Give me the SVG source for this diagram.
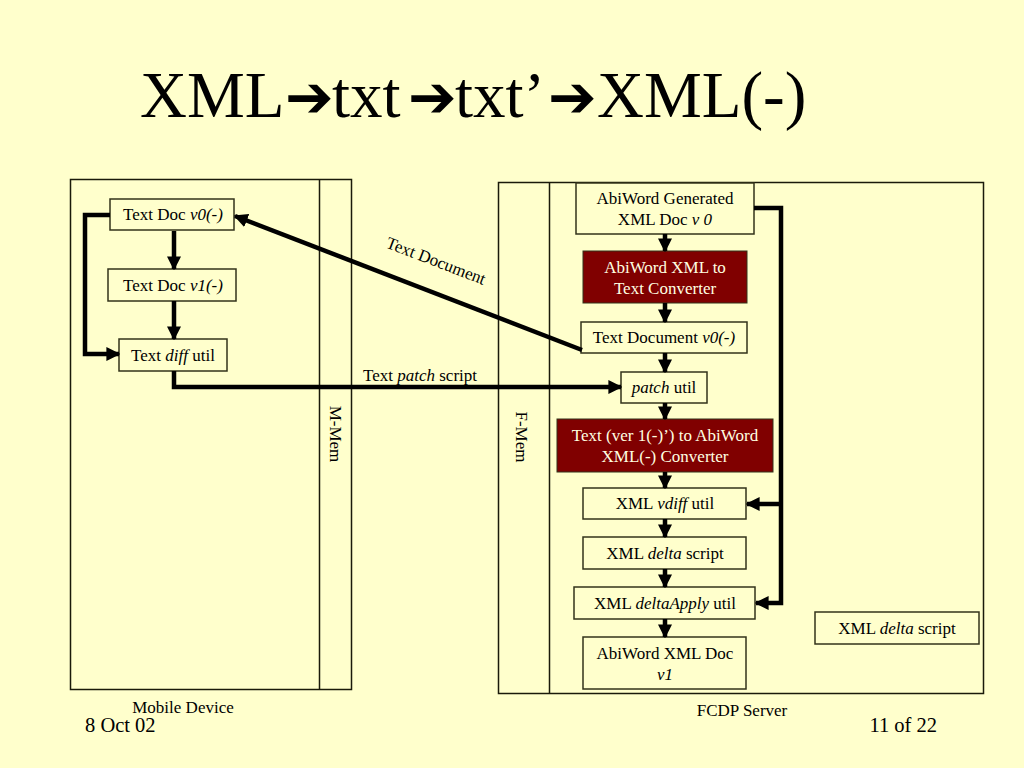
<svg xmlns="http://www.w3.org/2000/svg" width="1024" height="768" viewBox="0 0 1024 768">
<defs>
<marker id="ah" viewBox="0 0 10 10" refX="9" refY="5" markerUnits="userSpaceOnUse" markerWidth="14" markerHeight="14" orient="auto">
<path d="M0,0 L10,5 L0,10 z" fill="#000"/>
</marker>
<style>
.t{font-family:"Liberation Serif","Times New Roman",serif;font-size:17px;fill:#000;text-anchor:middle}
.w{fill:#FFFFE0}
.box{fill:#FFFFCC;stroke:#33331a;stroke-width:1.5}
.red{fill:#800000;stroke:#33331a;stroke-width:1}
.cont{fill:none;stroke:#1a1a0a;stroke-width:1.5}
.c{fill:none;stroke:#000;stroke-width:4.5;marker-end:url(#ah)}
.arr{font-family:"DejaVu Sans",sans-serif;font-weight:bold;font-size:58px}
</style>
</defs>
<rect width="1024" height="768" fill="#FFFFCC"/>
<text y="117" font-family="Liberation Serif, serif" font-size="65"><tspan x="140">XML</tspan><tspan x="285" class="arr">➔</tspan><tspan x="332">txt</tspan><tspan x="408" class="arr">➔</tspan><tspan x="455">txt’</tspan><tspan x="548" class="arr">➔</tspan><tspan x="597">XML(-)</tspan></text>

<g id="mobile-device">
<rect class="cont" x="70.5" y="179.5" width="281" height="510"/>
<line class="cont" x1="319.5" y1="179.5" x2="319.5" y2="689.5"/>
<text class="t" transform="translate(330,434) rotate(90)">M-Mem</text>
<text class="t" x="183" y="713">Mobile Device</text>
</g>
<g id="fcdp-server">
<rect class="cont" x="498.5" y="182.5" width="485" height="511"/>
<line class="cont" x1="549.5" y1="182.5" x2="549.5" y2="693.5"/>
<text class="t" transform="translate(516,437) rotate(90)">F-Mem</text>
<text class="t" x="742" y="716">FCDP Server</text>
</g>

<g id="text-doc-v0"><rect class="box" x="110" y="199" width="124" height="31"/><text class="t" x="173" y="220">Text Doc <tspan font-style="italic">v0(-)</tspan></text></g>
<g id="text-doc-v1"><rect class="box" x="108" y="269" width="128" height="32"/><text class="t" x="173" y="291">Text Doc  <tspan font-style="italic">v1(-)</tspan></text></g>
<g id="text-diff-util"><rect class="box" x="119" y="339" width="108" height="32"/><text class="t" x="173" y="361">Text <tspan font-style="italic">diff</tspan> util</text></g>

<g id="abiword-generated"><rect class="box" x="576" y="183" width="178" height="51"/><text class="t" x="665" y="204">AbiWord Generated</text><text class="t" x="665" y="225">XML Doc <tspan font-style="italic">v 0</tspan></text></g>
<g id="xml-to-text"><rect class="red" x="583" y="251" width="164" height="52"/><text class="t w" x="665" y="273">AbiWord XML to</text><text class="t w" x="665" y="294">Text Converter</text></g>
<g id="text-document-v0"><rect class="box" x="581" y="322" width="166" height="31"/><text class="t" x="664" y="343">Text Document <tspan font-style="italic">v0(-)</tspan></text></g>
<g id="patch-util"><rect class="box" x="621" y="372" width="86" height="31"/><text class="t" x="664" y="393"><tspan font-style="italic">patch</tspan> util</text></g>
<g id="text-to-xml"><rect class="red" x="557" y="419" width="216" height="53"/><text class="t w" x="665" y="441">Text (ver 1(-)’) to AbiWord</text><text class="t w" x="665" y="462">XML(-) Converter</text></g>
<g id="xml-vdiff"><rect class="box" x="583" y="488" width="163" height="31"/><text class="t" x="665" y="509">XML <tspan font-style="italic">vdiff</tspan> util</text></g>
<g id="xml-delta"><rect class="box" x="583" y="537" width="163" height="32"/><text class="t" x="665" y="559">XML <tspan font-style="italic">delta</tspan> script</text></g>
<g id="xml-deltaapply"><rect class="box" x="574" y="587" width="181" height="32"/><text class="t" x="665" y="609">XML <tspan font-style="italic">deltaApply</tspan> util</text></g>
<g id="abiword-doc-v1"><rect class="box" x="583" y="637" width="163" height="52"/><text class="t" x="665" y="659">AbiWord XML Doc</text><text class="t" x="665" y="680" font-style="italic">v1</text></g>
<g id="xml-delta-2"><rect class="box" x="815" y="612" width="164" height="32"/><text class="t" x="897" y="634">XML <tspan font-style="italic">delta</tspan> script</text></g>

<g id="connectors">
<line class="c" x1="174" y1="231" x2="174" y2="269"/>
<line class="c" x1="174" y1="301" x2="174" y2="339"/>
<polyline class="c" points="110,215 85,215 85,354 119,354"/>
<polyline class="c" points="174,371 174,387 621,387"/>
<line class="c" x1="582" y1="350" x2="235" y2="216"/>
<line class="c" x1="665" y1="234" x2="665" y2="251"/>
<line class="c" x1="665" y1="303" x2="665" y2="322"/>
<line class="c" x1="665" y1="353" x2="665" y2="372"/>
<line class="c" x1="665" y1="403" x2="665" y2="419"/>
<line class="c" x1="665" y1="472" x2="665" y2="488"/>
<line class="c" x1="665" y1="519" x2="665" y2="537"/>
<line class="c" x1="665" y1="569" x2="665" y2="587"/>
<line class="c" x1="665" y1="619" x2="665" y2="637"/>
<polyline class="c" points="754,208 781,208 781,603 756,603"/>
<line class="c" x1="781" y1="504" x2="747" y2="504"/>
<text class="t" transform="translate(434,266) rotate(21)">Text Document</text>
<text class="t" x="420" y="381">Text <tspan font-style="italic">patch</tspan> script</text>
</g>

<text x="85" y="732" font-family="Liberation Serif, serif" font-size="20.5">8 Oct 02</text>
<text x="937" y="732" font-family="Liberation Serif, serif" font-size="20.5" text-anchor="end">11 of 22</text>
</svg>
